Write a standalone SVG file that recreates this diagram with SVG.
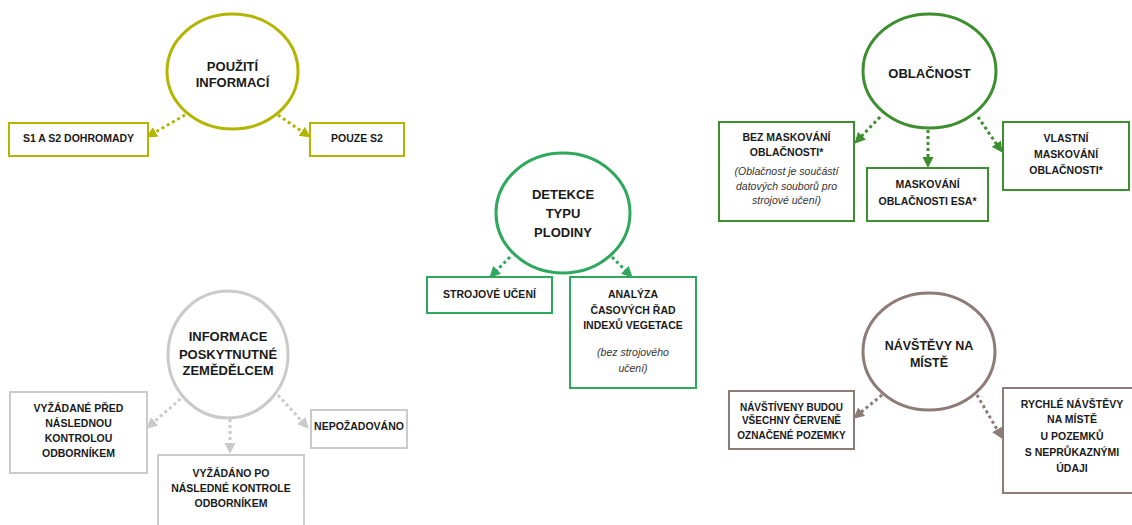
<svg xmlns="http://www.w3.org/2000/svg" width="1132" height="525" viewBox="0 0 1132 525">
<style>
.t{font-family:"Liberation Sans",Arial,sans-serif;font-weight:bold;fill:#1a1a1a;text-anchor:middle}
.c{font-size:13px}
.b{font-size:10.5px}
.i{font-family:"Liberation Sans",Arial,sans-serif;font-style:italic;font-size:10.5px;fill:#333;text-anchor:middle}
.circ{fill:#fff;stroke-width:3}
.box{fill:#fff;stroke-width:2}
.con line{stroke-width:3;stroke-dasharray:3 3;fill:none}
.y{stroke:#b3b500}
.g{stroke:#3c8e2f}
.m{stroke:#2ea85c}
.gr{stroke:#cacaca}
.br{stroke:#8c7b78}
</style>
<defs>
<marker id="ay" markerUnits="userSpaceOnUse" markerWidth="12" markerHeight="12" refX="3" refY="5.5" orient="auto"><path d="M0,0 L11,5.5 L0,11 z" fill="#b3b500"/></marker>
<marker id="ag" markerUnits="userSpaceOnUse" markerWidth="12" markerHeight="12" refX="3" refY="5.5" orient="auto"><path d="M0,0 L11,5.5 L0,11 z" fill="#3c8e2f"/></marker>
<marker id="am" markerUnits="userSpaceOnUse" markerWidth="12" markerHeight="12" refX="3" refY="5.5" orient="auto"><path d="M0,0 L11,5.5 L0,11 z" fill="#2ea85c"/></marker>
<marker id="agr" markerUnits="userSpaceOnUse" markerWidth="12" markerHeight="12" refX="3" refY="5.5" orient="auto"><path d="M0,0 L11,5.5 L0,11 z" fill="#cacaca"/></marker>
<marker id="abr" markerUnits="userSpaceOnUse" markerWidth="12" markerHeight="12" refX="3" refY="5.5" orient="auto"><path d="M0,0 L11,5.5 L0,11 z" fill="#8c7b78"/></marker>
</defs>

<g id="connectors" class="con">
<line class="y" x1="185" y1="115" x2="153" y2="133.5" marker-end="url(#ay)"/>
<line class="y" x1="278" y1="115" x2="304.2" y2="133" marker-end="url(#ay)"/>
<line class="g" x1="880" y1="117" x2="859.9" y2="137.9" marker-end="url(#ag)"/>
<line class="g" x1="928" y1="130" x2="928" y2="160" marker-end="url(#ag)"/>
<line class="g" x1="978" y1="117" x2="998" y2="146.2" marker-end="url(#ag)"/>
<line class="m" x1="510" y1="257" x2="495" y2="272" marker-end="url(#am)"/>
<line class="m" x1="612" y1="257" x2="627" y2="272" marker-end="url(#am)"/>
<line class="gr" x1="185" y1="395" x2="152.3" y2="423.4" marker-end="url(#agr)"/>
<line class="gr" x1="230" y1="413" x2="230" y2="446" marker-end="url(#agr)"/>
<line class="gr" x1="278" y1="395" x2="303.3" y2="422.8" marker-end="url(#agr)"/>
<line class="br" x1="882" y1="395" x2="859.4" y2="413.6" marker-end="url(#abr)"/>
<line class="br" x1="977" y1="395" x2="998.5" y2="432" marker-end="url(#abr)"/>
</g>

<g id="pouziti">
<ellipse class="circ y" cx="232.5" cy="71.5" rx="65.5" ry="57.5"/>
<text class="t c" x="232.5" y="70.6">POUŽITÍ</text>
<text class="t c" x="232.5" y="86.6">INFORMACÍ</text>
</g>
<g id="s1s2">
<rect class="box y" x="9" y="123" width="139" height="33"/>
<text class="t b" x="78.5" y="142">S1 A S2 DOHROMADY</text>
</g>
<g id="pouzes2">
<rect class="box y" x="310" y="123" width="94" height="33"/>
<text class="t b" x="357" y="142">POUZE  S2</text>
</g>

<g id="oblacnost">
<ellipse class="circ g" cx="929.5" cy="71" rx="66.5" ry="57"/>
<text class="t c" x="929.5" y="77.6">OBLAČNOST</text>
</g>
<g id="bezmask">
<rect class="box g" x="719" y="122" width="135" height="99"/>
<text class="t b" x="786.5" y="141">BEZ MASKOVÁNÍ</text>
<text class="t b" x="786.5" y="156">OBLAČNOSTI*</text>
<text class="i" x="786.5" y="175">(Oblačnost je součástí</text>
<text class="i" x="786.5" y="190">datových souborů pro</text>
<text class="i" x="786.5" y="204">strojové učení)</text>
</g>
<g id="maskesa">
<rect class="box g" x="867" y="168" width="121" height="53"/>
<text class="t b" x="927.5" y="188">MASKOVÁNÍ</text>
<text class="t b" x="927.5" y="205">OBLAČNOSTI ESA*</text>
</g>
<g id="vlastni">
<rect class="box g" x="1003" y="122" width="126" height="68"/>
<text class="t b" x="1066" y="142">VLASTNÍ</text>
<text class="t b" x="1066" y="158">MASKOVÁNÍ</text>
<text class="t b" x="1066" y="174">OBLAČNOSTI*</text>
</g>

<g id="detekce">
<ellipse class="circ m" cx="563" cy="213" rx="67" ry="60"/>
<text class="t c" x="563" y="198.6">DETEKCE</text>
<text class="t c" x="563" y="217.6">TYPU</text>
<text class="t c" x="563" y="236.6">PLODINY</text>
</g>
<g id="strojove">
<rect class="box m" x="427" y="277" width="125" height="36"/>
<text class="t b" x="489.5" y="298">STROJOVÉ  UČENÍ</text>
</g>
<g id="analyza">
<rect class="box m" x="570" y="277" width="126" height="111"/>
<text class="t b" x="633" y="298">ANALÝZA</text>
<text class="t b" x="633" y="314">ČASOVÝCH ŘAD</text>
<text class="t b" x="633" y="329">INDEXŮ  VEGETACE</text>
<text class="i" x="633" y="356">(bez strojového</text>
<text class="i" x="633" y="372">učení)</text>
</g>

<g id="informace">
<ellipse class="circ gr" cx="228" cy="354.5" rx="60" ry="63.5"/>
<text class="t c" x="228" y="340.6">INFORMACE</text>
<text class="t c" x="228" y="358.6">POSKYTNUTNÉ</text>
<text class="t c" x="228" y="374.6">ZEMĚDĚLCEM</text>
</g>
<g id="vyzadanepred">
<rect class="box gr" x="10" y="392" width="137" height="81"/>
<text class="t b" x="78.5" y="412">VYŽÁDANÉ PŘED</text>
<text class="t b" x="78.5" y="427">NÁSLEDNOU</text>
<text class="t b" x="78.5" y="442">KONTROLOU</text>
<text class="t b" x="78.5" y="457">ODBORNÍKEM</text>
</g>
<g id="vyzadanopo">
<rect class="box gr" x="158" y="455" width="146" height="80"/>
<text class="t b" x="231" y="477">VYŽÁDÁNO PO</text>
<text class="t b" x="231" y="492">NÁSLEDNÉ KONTROLE</text>
<text class="t b" x="231" y="507">ODBORNÍKEM</text>
</g>
<g id="nepozadovano">
<rect class="box gr" x="311" y="410" width="96" height="38"/>
<text class="t b" x="359" y="430">NEPOŽADOVÁNO</text>
</g>

<g id="navstevy">
<ellipse class="circ br" cx="929" cy="351.5" rx="66" ry="58.5"/>
<text class="t" style="font-size:12.5px" x="929" y="349.5">NÁVŠTĚVY NA</text>
<text class="t" style="font-size:12.5px" x="929" y="366.5">MÍSTĚ</text>
</g>
<g id="navstiveny">
<rect class="box br" x="729" y="391" width="125" height="58"/>
<text class="t" style="font-size:10px" x="791.5" y="410.5">NÁVŠTÍVENY BUDOU</text>
<text class="t" style="font-size:10px" x="791.5" y="424">VŠECHNY ČERVENĚ</text>
<text class="t" style="font-size:10px" x="791.5" y="438.5">OZNAČENÉ POZEMKY</text>
</g>
<g id="rychle">
<rect class="box br" x="1003" y="388" width="140" height="105"/>
<text class="t b" x="1072" y="408">RYCHLÉ NÁVŠTĚVY</text>
<text class="t b" x="1072" y="423">NA MÍSTĚ</text>
<text class="t b" x="1072" y="440">U POZEMKŮ</text>
<text class="t b" x="1072" y="456">S NEPRŮKAZNÝMI</text>
<text class="t b" x="1072" y="472">ÚDAJI</text>
</g>
</svg>
